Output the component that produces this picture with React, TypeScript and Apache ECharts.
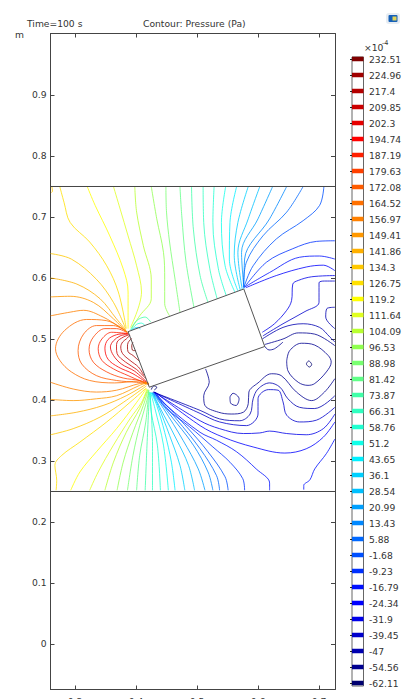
import React, { useEffect, useRef } from "react";
import * as echarts from "echarts";

const legendLabels = ["232.51","224.96","217.4","209.85","202.3","194.74","187.19","179.63","172.08","164.52","156.97","149.41","141.86","134.3","126.75","119.2","111.64","104.09","96.53","88.98","81.42","73.87","66.31","58.76","51.2","43.65","36.1","28.54","20.99","13.43","5.88","-1.68","-9.23","-16.79","-24.34","-31.9","-39.45","-47","-54.56","-62.11"];
const levelColors = ["#800000","#a00000","#b40000","#cc0000","#e60000","#ff0000","#ff2000","#ff4000","#ff5c00","#ff7000","#ff8000","#ff9800","#ffb000","#ffc800","#ffe000","#ffff00","#e0ff20","#b8ff30","#90ff50","#78ff70","#60ff88","#40ffa8","#30ffc0","#20ffd0","#10ffe8","#00f0ff","#00d0ff","#00c0ff","#00a0ff","#0088ff","#0068ff","#0050ff","#0030ff","#0010ff","#0000ff","#0000e8","#0000cc","#0000b0","#000090","#000070"];

const xTicks = [0.3, 0.4, 0.5, 0.6, 0.7];
const yTicks = [0, 0.1, 0.2, 0.3, 0.4, 0.5, 0.6, 0.7, 0.8, 0.9];
const xRange = [0.2598, 0.7262];
const yRange = [-0.0746, 1.0008];

const domainTop = [[0.2598, 0.75], [0.7262, 0.75]];
const domainBottom = [[0.2598, 0.25], [0.7262, 0.25]];
const plate = [[0.387, 0.512], [0.5767, 0.582], [0.611, 0.4877], [0.4218, 0.421], [0.387, 0.512]];

// [legend level index, points]
const hotLoops: [number, number[][]][] = [
  [0, [[.395,.495],[.393,.489],[.395,.481],[.400,.481]]],
  [1, [[.393,.501],[.387,.494],[.386,.487],[.387,.479],[.395,.473],[.406,.463]]],
  [2, [[.390,.506],[.384,.500],[.378,.495],[.375,.487],[.378,.476],[.390,.465],[.404,.454],[.413,.440]]],
  [3, [[.389,.507],[.379,.503],[.369,.495],[.368,.487],[.369,.476],[.383,.462],[.401,.450],[.416,.435]]],
  [4, [[.388,.508],[.374,.505],[.363,.497],[.358,.487],[.363,.473],[.376,.459],[.398,.447],[.418,.429]]],
  [5, [[.387,.509],[.368,.507],[.354,.499],[.349,.485],[.354,.467],[.371,.454],[.395,.443],[.420,.427]]],
  [6, [[.386,.509],[.360,.511],[.344,.500],[.338,.484],[.344,.465],[.363,.451],[.387,.440],[.421,.425]]],
  [7, [[.386,.510],[.368,.517],[.349,.517],[.330,.503],[.323,.483],[.330,.462],[.352,.446],[.379,.436],[.406,.432],[.421,.426]]],
  [8, [[.386,.511],[.363,.522],[.335,.522],[.314,.508],[.305,.481],[.311,.459],[.335,.440],[.368,.432],[.401,.429],[.421,.427]]],
  [9, [[.386,.511],[.352,.530],[.319,.532],[.283,.514],[.268,.484],[.275,.465],[.294,.446],[.324,.432],[.365,.428],[.406,.431],[.420,.427]]],
];

const upperFan: [number, number[][]][] = [
  [10, [[.260,.538],[.292,.544],[.314,.547],[.346,.536],[.374,.519],[.386,.511]]],
  [11, [[.260,.569],[.292,.570],[.330,.560],[.363,.533],[.384,.512]]],
  [12, [[.260,.600],[.303,.590],[.341,.566],[.368,.533],[.384,.514]]],
  [13, [[.260,.640],[.294,.631],[.335,.598],[.363,.560],[.383,.517]]],
  [13, [[.262,.750],[.263,.742],[.261,.740]]],
  [14, [[.275,.750],[.282,.724],[.292,.691],[.324,.659],[.352,.620],[.371,.577],[.384,.517]]],
  [15, [[.320,.750],[.333,.719],[.357,.669],[.379,.615],[.387,.577],[.387,.517]]],
  [16, [[.363,.750],[.374,.713],[.387,.669],[.401,.620],[.409,.577],[.391,.519]]],
  [17, [[.398,.750],[.401,.708],[.412,.653],[.425,.598],[.425,.566],[.406,.538],[.393,.518]]],
  [18, [[.425,.750],[.434,.697],[.445,.642],[.447,.598],[.447,.558],[.455,.538]]],
  [19, [[.449,.750],[.450,.708],[.455,.659],[.464,.598],[.472,.544]]],
  [20, [[.472,.750],[.475,.702],[.482,.626],[.495,.552]]],
  [21, [[.491,.750],[.494,.680],[.505,.604],[.518,.560]]],
  [22, [[.510,.750],[.511,.691],[.521,.615],[.533,.566]]],
  [23, [[.528,.750],[.526,.691],[.535,.615],[.548,.571]]],
  [24, [[.547,.750],[.540,.691],[.546,.620],[.562,.577]]],
  [25, [[.565,.750],[.554,.691],[.553,.631],[.567,.579]]],
  [26, [[.584,.750],[.567,.691],[.561,.637],[.571,.580]]],
  [27, [[.603,.750],[.584,.697],[.567,.642],[.574,.582]]],
  [28, [[.624,.750],[.600,.697],[.573,.642],[.577,.583]]],
  [29, [[.647,.750],[.619,.697],[.578,.631],[.577,.583]]],
  [30, [[.674,.750],[.647,.708],[.608,.669],[.581,.626],[.576,.585]]],
  [31, [[.708,.750],[.701,.719],[.674,.694],[.630,.664],[.592,.620],[.577,.585]]],
  [32, [[.726,.661],[.696,.660],[.657,.648],[.614,.626],[.578,.585]]],
  [33, [[.726,.631],[.701,.636],[.668,.634],[.619,.609],[.578,.585]]],
  [34, [[.726,.612],[.707,.621],[.679,.618],[.630,.604],[.580,.584]]],
  [21, [[.391,.515],[.401,.530],[.415,.536],[.424,.528]]],
  [23, [[.392,.515],[.401,.524],[.409,.526],[.415,.522]]],
  [26, [[.392,.514],[.398,.518],[.404,.519],[.407,.516]]],
];

const lowerFan: [number, number[][]][] = [
  [10, [[.260,.429],[.297,.418],[.335,.413],[.368,.416],[.406,.427],[.420,.428]]],
  [11, [[.260,.401],[.297,.399],[.335,.402],[.368,.407],[.406,.424],[.420,.429]]],
  [12, [[.260,.374],[.303,.380],[.346,.391],[.384,.407],[.420,.428]]],
  [13, [[.260,.343],[.297,.353],[.341,.372],[.379,.396],[.417,.423]]],
  [14, [[.269,.252],[.270,.268],[.267,.293],[.278,.309],[.308,.331],[.352,.364],[.390,.396],[.416,.419]]],
  [15, [[.293,.252],[.308,.282],[.335,.315],[.368,.353],[.401,.396],[.417,.419]]],
  [16, [[.324,.252],[.338,.282],[.363,.326],[.390,.369],[.409,.396],[.418,.418]]],
  [17, [[.349,.252],[.363,.298],[.384,.347],[.406,.386],[.419,.417]]],
  [18, [[.369,.252],[.379,.298],[.395,.347],[.412,.391],[.420,.417]]],
  [19, [[.386,.252],[.395,.309],[.406,.358],[.417,.396],[.421,.416]]],
  [20, [[.401,.252],[.406,.309],[.416,.364],[.421,.416]]],
  [21, [[.415,.252],[.418,.326],[.422,.413]]],
  [22, [[.427,.252],[.427,.326],[.423,.413]]],
  [23, [[.440,.252],[.435,.326],[.425,.380],[.423,.412]]],
  [24, [[.453,.252],[.445,.326],[.431,.386],[.424,.412]]],
  [25, [[.464,.252],[.458,.298],[.447,.347],[.434,.391],[.425,.412]]],
  [26, [[.480,.252],[.472,.293],[.455,.342],[.436,.391],[.426,.412]]],
  [27, [[.496,.252],[.486,.293],[.466,.336],[.439,.388],[.427,.412]]],
  [28, [[.513,.252],[.502,.287],[.477,.334],[.445,.386],[.427,.412]]],
  [29, [[.526,.252],[.518,.282],[.494,.326],[.455,.377],[.428,.412]]],
  [30, [[.537,.252],[.532,.276],[.505,.320],[.466,.369],[.429,.412]]],
  [31, [[.551,.252],[.546,.274],[.518,.315],[.483,.356],[.430,.412]]],
  [32, [[.578,.252],[.575,.271],[.554,.298],[.526,.323],[.488,.356],[.450,.386],[.430,.413]]],
  [33, [[.619,.252],[.619,.264],[.597,.287],[.565,.315],[.532,.334],[.505,.347],[.450,.391],[.431,.413]]],
  [39, [[.425,.417],[.429,.423],[.434,.421],[.430,.416]]],
];

const coldContours: [number, number[][]][] = [
  [34, [[.431,.413],[.505,.358],[.543,.339],[.592,.323],[.644,.313],[.679,.320],[.707,.339],[.726,.364]]],
  [35, [[.430,.413],[.505,.366],[.537,.353],[.576,.345],[.603,.346],[.619,.349],[.647,.345],[.679,.343],[.707,.353],[.726,.377]]],
  [36, [[.429,.413],[.505,.378],[.537,.364],[.581,.358],[.600,.377],[.600,.402],[.617,.417],[.633,.416],[.641,.397],[.647,.375],[.668,.364],[.696,.367],[.726,.388]]],
  [37, [[.428,.413],[.505,.383],[.537,.369],[.570,.366],[.587,.377],[.592,.402],[.600,.418],[.619,.428],[.636,.421],[.649,.402],[.668,.388],[.693,.386],[.726,.407]]],
  [38, [[.514,.451],[.520,.429],[.511,.407],[.513,.391],[.535,.380],[.556,.377],[.576,.380],[.584,.394],[.585,.413],[.600,.428],[.622,.443],[.638,.440],[.663,.413],[.688,.399],[.709,.413],[.726,.435]]],
  [38, [[.554,.405],[.559,.411],[.569,.402],[.564,.391],[.555,.395],[.554,.405]]],
  [38, [[.647,.464],[.652,.481],[.671,.493],[.693,.490],[.715,.473],[.720,.462],[.712,.446],[.693,.427],[.682,.424],[.666,.429],[.649,.448],[.647,.464]]],
  [39, [[.679,.459],[.683,.464],[.688,.458],[.684,.454],[.679,.459]]],
  [35, [[.607,.511],[.627,.525],[.647,.547],[.655,.563],[.657,.590],[.666,.596],[.688,.602],[.726,.604]]],
  [36, [[.726,.595],[.709,.595],[.700,.592],[.700,.560],[.677,.545],[.641,.525],[.608,.505]]],
  [37, [[.726,.552],[.713,.550],[.711,.536],[.726,.517]]],
  [37, [[.607,.500],[.641,.519],[.674,.525],[.701,.519],[.718,.503],[.726,.495]]],
  [38, [[.611,.491],[.641,.500],[.666,.510],[.693,.508],[.726,.489]]],
  [38, [[.611,.488],[.618,.482],[.627,.484],[.641,.495]]],
  [33, [[.675,.253],[.675,.260],[.685,.269],[.693,.287],[.712,.312],[.726,.336]]],
];

const contours = [...hotLoops, ...upperFan, ...lowerFan, ...coldContours];
const FONT = "DejaVu Sans";
const TEXT = "#333";

export default function App() {
  const ref = useRef<HTMLDivElement>(null);
  useEffect(() => {
    document.body.style.margin = "0";
    const chart = echarts.init(ref.current!, null, { renderer: "svg" });
    const frame = { show: true, onZero: false, lineStyle: { color: "#444", width: 1 } };
    const ticks = (values: number[]) => ({ show: true, inside: true, length: 4, customValues: values, lineStyle: { color: "#444", width: 1 } });
    const label = { color: TEXT, fontFamily: FONT, fontSize: 9.2, margin: 4, formatter: (v: number) => String(v) };
    const txt = (text: string, x: number, y: number, extra: any = {}) => ({
      type: "text", x, y, silent: true,
      style: { text, fill: TEXT, font: `9.2px "${FONT}"`, ...extra },
    });
    chart.setOption({
      animation: false,
      backgroundColor: "#fff",
      grid: [
        { left: 50.5, top: 33.5, width: 284.5, height: 656, outerBoundsMode: "none" },
        { left: 352, top: 51, width: 11.5, height: 640, outerBoundsMode: "none" },
      ],
      xAxis: [
        { type: "value", gridIndex: 0, position: "bottom", min: xRange[0], max: xRange[1], splitLine: { show: false }, axisLine: frame, axisTick: ticks(xTicks), axisLabel: { ...label, margin: 7.5, customValues: xTicks } },
        { type: "value", gridIndex: 0, position: "top", min: xRange[0], max: xRange[1], splitLine: { show: false }, axisLine: frame, axisTick: ticks(xTicks), axisLabel: { show: false } },
        { type: "value", gridIndex: 1, min: 0, max: 1, show: false },
      ],
      yAxis: [
        { type: "value", gridIndex: 0, position: "left", min: yRange[0], max: yRange[1], splitLine: { show: false }, axisLine: frame, axisTick: ticks(yTicks), axisLabel: { ...label, customValues: yTicks } },
        { type: "value", gridIndex: 0, position: "right", min: yRange[0], max: yRange[1], splitLine: { show: false }, axisLine: frame, axisTick: ticks(yTicks), axisLabel: { show: false } },
        { type: "category", gridIndex: 1, position: "right", inverse: true, data: legendLabels, axisLine: { show: false }, axisTick: { show: true, inside: true, alignWithLabel: true, length: 2, lineStyle: { color: "#222" } }, axisLabel: { color: TEXT, fontFamily: FONT, fontSize: 9.2, margin: 5.5, interval: 0 } },
        { type: "category", gridIndex: 1, position: "left", inverse: true, data: legendLabels, axisLine: { show: false }, axisTick: { show: true, inside: true, alignWithLabel: true, length: 2, lineStyle: { color: "#222" } }, axisLabel: { show: false } },
      ],
      series: [
        ...contours.map(([level, points]) => ({
          type: "line", xAxisIndex: 0, yAxisIndex: 0, data: points, showSymbol: false, silent: true, smooth: 0.35,
          lineStyle: { color: levelColors[level], width: 0.8 },
        })),
        ...[domainTop, domainBottom].map((points) => ({
          type: "line", xAxisIndex: 0, yAxisIndex: 0, data: points, showSymbol: false, silent: true,
          lineStyle: { color: "#444", width: 1 },
        })),
        { type: "line", xAxisIndex: 0, yAxisIndex: 0, data: plate, showSymbol: false, silent: true, lineStyle: { color: "#555", width: 1 } },
        {
          type: "bar", xAxisIndex: 2, yAxisIndex: 2, barWidth: 4.5, silent: true,
          data: legendLabels.map((_, i) => ({ value: 1, itemStyle: { color: levelColors[i] } })),
        },
      ],
      graphic: [
        { type: "rect", silent: true, shape: { x: 352, y: 57, width: 11.5, height: 629 }, style: { fill: "none", stroke: "#666", lineWidth: 1 } },
        txt("Time=100 s", 27, 19),
        txt("Contour: Pressure (Pa)", 143, 19),
        txt("m", 15, 30),
        txt("m", 330, 696),
        txt("×10", 364, 43),
        txt("-4", 382, 39, { font: `6.5px "${FONT}"` }),
        { type: "rect", silent: true, shape: { x: 386, y: 13, width: 14, height: 11, r: 3 }, style: { fill: "#e6ecf2" } },
        { type: "rect", silent: true, shape: { x: 388.5, y: 15, width: 9, height: 7, r: 1 }, style: { fill: "#1560b8" } },
        { type: "rect", silent: true, shape: { x: 392.5, y: 16.5, width: 4, height: 4 }, style: { fill: "#e2d45a" } },
      ],
    });
    return () => chart.dispose();
  }, []);
  return <div ref={ref} style={{ position: "fixed", left: 0, top: 0, width: 414, height: 699 }} />;
}
